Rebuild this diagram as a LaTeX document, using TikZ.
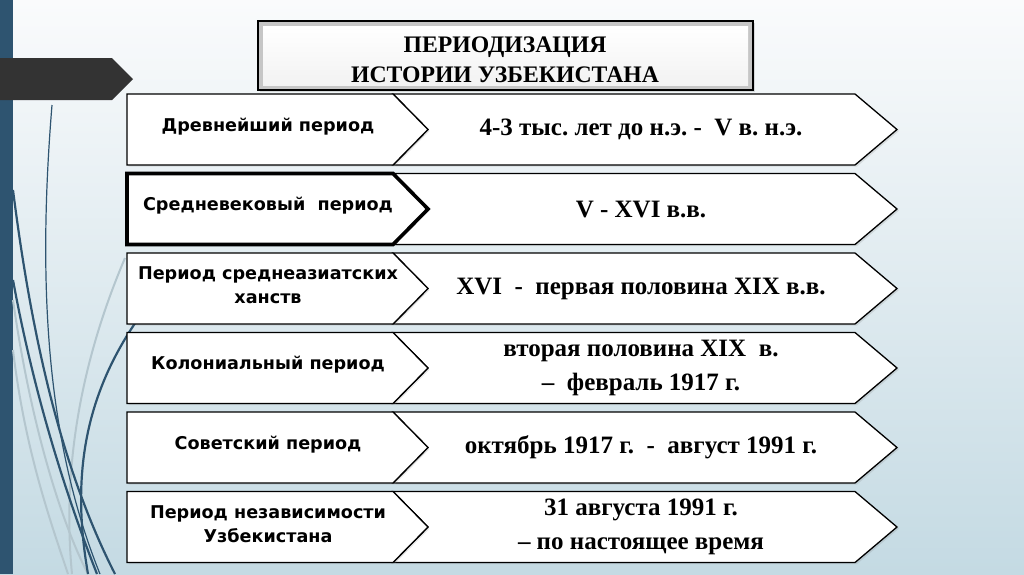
\documentclass[tikz,border=0pt]{standalone}
\usepackage{fontspec}
\setmainfont{Liberation Serif}
\newfontfamily\periodfont{DejaVu Sans}
\usepackage{tikz}
\usetikzlibrary{shadows}
\frenchspacing

\definecolor{slate}{HTML}{2E5470}
\definecolor{haze}{HTML}{B4C6CE}
\definecolor{skytop}{HTML}{FAFBFC}
\definecolor{skybottom}{HTML}{C4DAE3}
\definecolor{arrowgray}{HTML}{333333}

\tikzset{
	periodbox/.style={fill=white,draw=black,line join=miter,
		drop shadow={shadow xshift=1.5pt,shadow yshift=-1.5pt,opacity=0.2}},
	datebox/.style={fill=white,draw=black,line width=1.3pt,line join=miter,
		drop shadow={shadow xshift=2pt,shadow yshift=-1.5pt,opacity=0.2}},
	periodtext/.style={font=\periodfont\bfseries\fontsize{17.6}{24}\selectfont,align=center,inner sep=0pt},
	datetext/.style={font=\bfseries\fontsize{25}{34}\selectfont,align=center,inner sep=0pt},
	curve/.style={draw=slate,line width=2.2pt},
	hazecurve/.style={draw=haze,line width=2pt}
}

\begin{document}
\begin{tikzpicture}[x=1pt,y=-1pt]
	\useasboundingbox (0,0) rectangle (1024,574);
	\shade[top color=skytop,bottom color=skybottom] (0,0) rectangle (1024,574);
	\fill[slate] (0,0) rectangle (13,574);

	\draw[hazecurve] (125,258) .. controls (90,340) and (60,450) .. (72,574);
	\draw[hazecurve] (13,300) .. controls (30,420) and (60,520) .. (88,574);
	\draw[hazecurve] (13,350) .. controls (25,450) and (50,520) .. (68,574);
	\draw[curve,line width=1.2pt] (52,105) .. controls (36,300) and (50,450) .. (100,574);
	\draw[curve] (13,190) .. controls (32,340) and (62,470) .. (115,574);
	\draw[curve] (13,280) .. controls (35,400) and (68,500) .. (97,574);
	\draw[curve] (160,290) .. controls (85,380) and (70,470) .. (88,574);

	\fill[arrowgray] (0,58) -- (112,58) -- (133,79) -- (112,100) -- (0,100) -- cycle;

	\fill[gray!45,drop shadow={shadow xshift=2pt,shadow yshift=-2pt,opacity=0.25}] (258,21) rectangle (753,90);
	\shade[top color=white,bottom color=gray!10] (263,26) rectangle (748,85);
	\draw[line width=1.6pt] (258,21) rectangle (753,90);
	\node[font=\bfseries\fontsize{23.7}{30}\selectfont,align=center,inner sep=0pt] (title) at (505,60)
		{ПЕРИОДИЗАЦИЯ\\ИСТОРИИ УЗБЕКИСТАНА};

	\foreach \i/\w/\lft/\rgt in {
		1/1.3/{Древнейший период}/{4-3 тыс. лет до н.э. -\ \ V в. н.э.},
		2/3.6/{Средневековый\ \ период}/{V - XVI в.в.},
		3/1.3/{Период среднеазиатских\\ханств}/{XVI\ \ -\ \ первая половина XIX в.в.},
		4/1.3/{Колониальный период}/{вторая половина XIX\ \ в.\\–\ \ февраль 1917 г.},
		5/1.3/{Советский период}/{октябрь 1917 г.\ \ -\ \ август 1991 г.},
		6/1.3/{Период независимости\\Узбекистана}/{31 августа 1991 г.\\– по настоящее время}}
	{
		\pgfmathsetmacro{\ytop}{94+79.5*(\i-1)}
		\pgfmathsetmacro{\ymid}{\ytop+35.5}
		\pgfmathsetmacro{\ybot}{\ytop+71}
		\draw[datebox] (393,\ytop) -- (855,\ytop) -- (897,\ymid) -- (855,\ybot) -- (393,\ybot) -- (428,\ymid) -- cycle;
		\draw[periodbox,line width=\w pt] (127,\ytop) -- (393,\ytop) -- (428,\ymid) -- (393,\ybot) -- (127,\ybot) -- cycle;
		\node[periodtext] (period\i) at (268,\ymid-3) {\lft};
		\node[datetext] (date\i) at (641,\ymid) {\rgt};
	}
\end{tikzpicture}
\end{document}
